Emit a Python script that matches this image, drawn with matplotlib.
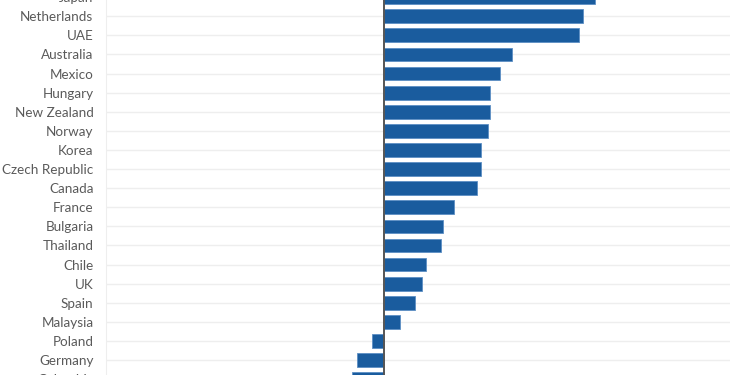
import matplotlib.pyplot as plt

countries = ['Japan', 'Netherlands', 'UAE', 'Australia', 'Mexico', 'Hungary',
             'New Zealand', 'Norway', 'Korea', 'Czech Republic', 'Canada',
             'France', 'Bulgaria', 'Thailand', 'Chile', 'UK', 'Spain',
             'Malaysia', 'Poland', 'Germany', 'Colombia']
values = [10.55, 9.95, 9.75, 6.4, 5.8, 5.3, 5.3, 5.2, 4.85, 4.85, 4.65,
          3.5, 2.95, 2.85, 2.1, 1.9, 1.55, 0.8, -0.6, -1.35, -1.6]

plt.rcParams['font.family'] = ['Lato', 'DejaVu Sans']

fig = plt.figure(figsize=(7.5, 3.75), dpi=100)
ax = fig.add_axes([0.1413, -0.0368, 0.832, 1.070])

pos = list(range(len(countries)))
ax.barh(pos, values, height=0.72, color='#1a5c9e', edgecolor='#5d8fc4',
        linewidth=0.6, zorder=3)
ax.axvline(0, color='#555555', linewidth=1.4, zorder=4)

ax.set_ylim(len(countries) - 0.5, -0.5)
ax.set_xlim(-13.9, 17.3)
ax.set_yticks(pos)
ax.set_yticklabels(countries, fontsize=9.7, color='#5a5a5a')
ax.set_xticks([])
ax.tick_params(axis='y', length=0, pad=9)
ax.grid(axis='y', color='#eeeeee', linewidth=1, zorder=0)

for s in ['top', 'right', 'bottom']:
    ax.spines[s].set_visible(False)
ax.spines['left'].set_color('#eeeeee')

fig.savefig('out.png', dpi=100)
